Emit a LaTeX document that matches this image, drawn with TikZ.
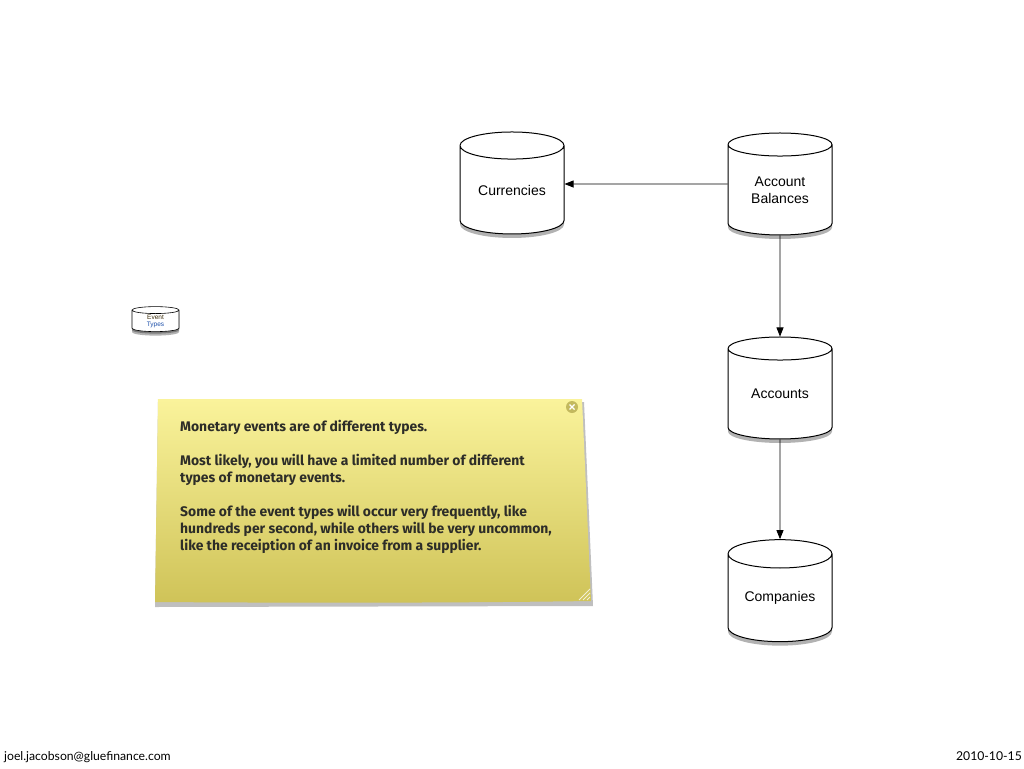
\documentclass[tikz,border=0pt]{standalone}
\usepackage{fontspec}
\setmainfont{Liberation Sans}
\newfontfamily\notefont{Fira Sans}
\newfontfamily\footfont{Lato}
\usetikzlibrary{shapes.geometric,arrows.meta,shadows}
\definecolor{noteTop}{RGB}{250,243,155}
\definecolor{noteBot}{RGB}{207,195,88}
\definecolor{noteInk}{RGB}{45,45,40}
\definecolor{typesBlue}{RGB}{30,80,170}
\definecolor{eventInk}{RGB}{60,45,10}
\tikzset{
  dbtable/.style={cylinder, shape border rotate=90, draw, line width=1pt, fill=white,
    aspect=0.4, minimum width=104pt, minimum height=102pt, inner sep=0pt,
    align=center, font=\fontsize{14}{17}\selectfont,
    drop shadow={shadow xshift=0pt, shadow yshift=-4pt, fill=black, opacity=.3}},
  link/.style={line width=0.8pt, -{Triangle[length=9pt,width=7pt]}}
}
\begin{document}
\begin{tikzpicture}[x=1pt,y=-1pt]
		\useasboundingbox[fill=white] (0,0) rectangle (1024,768);

		% tables
		\node[dbtable] (cur) at (512,190) {Currencies};
		\node[dbtable] (bal) at (780,190) {Account\\Balances};
		\node[dbtable] (acc) at (780,394) {Accounts};
		\node[dbtable] (com) at (780,598) {Companies};
		\node[dbtable, minimum width=47pt, minimum height=25pt, line width=0.6pt,
			font=\fontsize{6.5}{7}\selectfont,
			drop shadow={shadow xshift=0pt, shadow yshift=-2pt, fill=black, opacity=.3}]
			(evt) at (155.5,321) {\textcolor{eventInk}{Event}\\\textcolor{typesBlue}{Types}};

		\draw[link] ([yshift=6pt]bal.west) -- ([yshift=6pt]cur.east);
		\draw[link] (bal.south) -- (acc.north);
		\draw[link] (acc.south) -- (com.north);

		% sticky note
		\fill[black, opacity=.25] (158,402) -- (584,402) -- (593,606) -- (155,607) -- cycle;
		\shade[top color=noteTop, bottom color=noteBot] (158,399) -- (582,399) -- (591,601)
			.. controls (450,603) and (300,603) .. (155,602) -- cycle;
		\fill[noteBot!85!gray] (572,407) circle (6);
		\draw[white, line width=1.2pt] (569.5,404.5) -- (574.5,409.5) (569.5,409.5) -- (574.5,404.5);
		\foreach \d in {0,4,8} {
			\draw[white!75!noteBot, line width=0.8pt] (590,589+\d) -- (579+\d,600);
		}
		\node[anchor=north west, inner sep=0pt, align=left, text=noteInk,
			font=\notefont\bfseries\fontsize{13.9}{17}\selectfont] (txt) at (180,420)
			{Monetary events are of different types.\\[17pt]
			 Most likely, you will have a limited number of different\\
			 types of monetary events.\\[17pt]
			 Some of the event types will occur very frequently, like\\
			 hundreds per second, while others will be very uncommon,\\
			 like the receiption of an invoice from a supplier.};

		% footer
		\node[anchor=base west, inner sep=0pt, font=\footfont\fontsize{12.2}{13}\selectfont] (mail) at (4,760) {joel.jacobson@gluefinance.com};
		\node[anchor=base east, inner sep=0pt, font=\footfont\fontsize{12.2}{13}\selectfont] (date) at (1022,760) {2010-10-15};
	\end{tikzpicture}
\end{document}
